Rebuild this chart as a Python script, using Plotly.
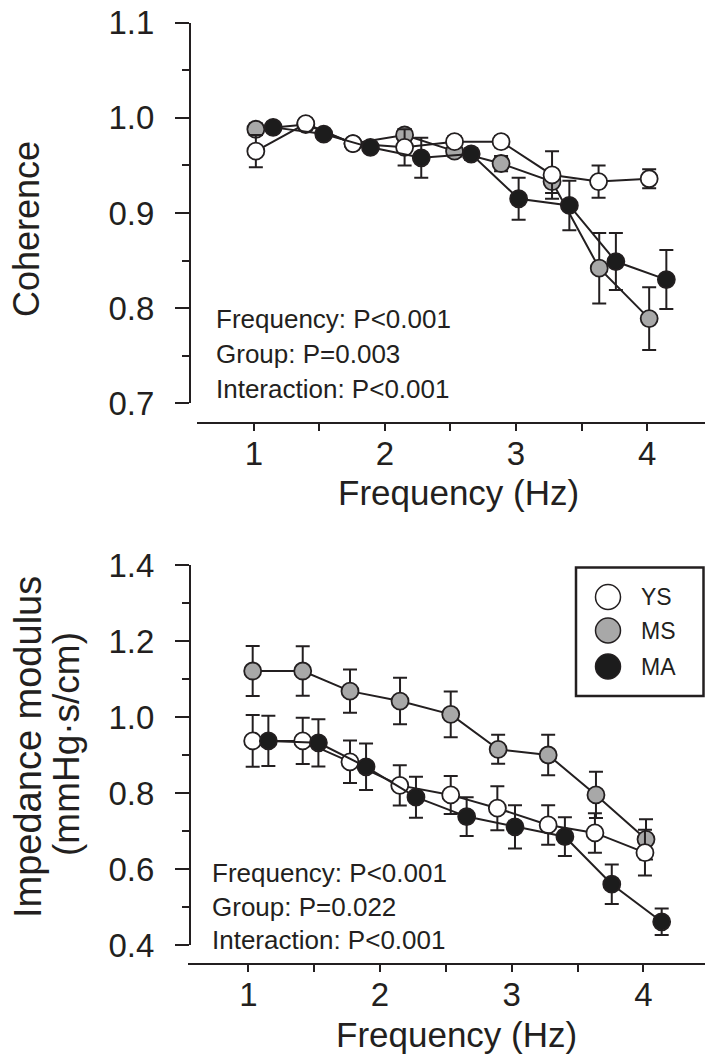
import plotly.graph_objects as go

W, H = 706, 1059

# ---------------- data ----------------
groups = ["YS", "MS", "MA"]
fill_colors = {"YS": "#ffffff", "MS": "#a8a8a8", "MA": "#1c1c1c"}

# Coherence panel (top)
coh_x_ys = [1.015, 1.396, 1.756, 2.150, 2.531, 2.886, 3.275, 3.630, 4.016]
coh_ys = [0.965, 0.994, 0.973, 0.969, 0.975, 0.975, 0.940, 0.933, 0.936]
coh_ys_err = [0.017, 0.005, 0.005, 0.019, 0.006, 0.006, 0.025, 0.017, 0.010]
coh_x_ms = [1.015, 1.396, 1.756, 2.150, 2.531, 2.886, 3.275, 3.635, 4.016]
coh_ms = [0.988, 0.993, 0.973, 0.982, 0.965, 0.952, 0.933, 0.842, 0.789]
coh_ms_err = [0.006, 0.005, 0.005, 0.006, 0.006, 0.008, 0.012, 0.037, 0.033]
coh_x_ma = [1.147, 1.533, 1.889, 2.277, 2.658, 3.020, 3.407, 3.762, 4.147]
coh_ma = [0.990, 0.983, 0.969, 0.958, 0.962, 0.915, 0.908, 0.849, 0.830]
coh_ma_err = [0.005, 0.005, 0.005, 0.021, 0.006, 0.022, 0.026, 0.030, 0.031]

# Impedance modulus panel (bottom)
imp_x_ys = [1.033, 1.413, 1.772, 2.150, 2.537, 2.891, 3.277, 3.632, 4.012]
imp_ys = [0.937, 0.937, 0.882, 0.820, 0.795, 0.760, 0.716, 0.695, 0.643]
imp_ys_err = [0.068, 0.061, 0.056, 0.053, 0.050, 0.058, 0.052, 0.052, 0.060]
imp_x_ms = [1.033, 1.413, 1.772, 2.152, 2.537, 2.897, 3.277, 3.640, 4.020]
imp_ms = [1.121, 1.121, 1.068, 1.042, 1.007, 0.915, 0.900, 0.795, 0.678]
imp_ms_err = [0.066, 0.065, 0.057, 0.061, 0.060, 0.038, 0.053, 0.061, 0.053]
imp_x_ma = [1.152, 1.532, 1.894, 2.273, 2.658, 3.025, 3.404, 3.760, 4.139]
imp_ma = [0.937, 0.932, 0.869, 0.789, 0.738, 0.711, 0.685, 0.560, 0.461]
imp_ma_err = [0.066, 0.062, 0.061, 0.054, 0.051, 0.057, 0.051, 0.052, 0.035]

x_tick_vals = [1, 2, 3, 4]
x_tick_text = ["1", "2", "3", "4"]
coh_tick_vals = [0.7, 0.8, 0.9, 1.0, 1.1]
coh_tick_text = ["0.7", "0.8", "0.9", "1.0", "1.1"]
imp_tick_vals = [0.4, 0.6, 0.8, 1.0, 1.2, 1.4]
imp_tick_text = ["0.4", "0.6", "0.8", "1.0", "1.2", "1.4"]

coh_stats = ["Frequency: P<0.001", "Group: P=0.003", "Interaction: P<0.001"]
imp_stats = ["Frequency: P<0.001", "Group: P=0.022", "Interaction: P<0.001"]

x_title = "Frequency (Hz)"
coh_title = "Coherence"
imp_title_1 = "Impedance modulus"
imp_title_2 = "(mmHg·s/cm)"

# ---------------- style ----------------
FONT = "Liberation Sans, Arial, sans-serif"
INK = "#231f20"
MARKER_SIZE = 17
EPS = 1e-6


def px(x):
    """window pixel x -> paper fraction"""
    return x / W


def py(y):
    """window pixel y -> paper fraction"""
    return 1 - y / H


fig = go.Figure()

panels = [
    ("x", "y", {"YS": (coh_x_ys, coh_ys, coh_ys_err),
                "MS": (coh_x_ms, coh_ms, coh_ms_err),
                "MA": (coh_x_ma, coh_ma, coh_ma_err)}),
    ("x2", "y2", {"YS": (imp_x_ys, imp_ys, imp_ys_err),
                  "MS": (imp_x_ms, imp_ms, imp_ms_err),
                  "MA": (imp_x_ma, imp_ma, imp_ma_err)}),
]

draw_order = ["MS", "YS", "MA"]
for xa, ya, data in panels:
    for g in draw_order:
        xs, vals, errs = data[g]
        fig.add_trace(go.Scatter(
            x=xs, y=vals, name=g, xaxis=xa, yaxis=ya,
            mode="lines+markers",
            line=dict(color=INK, width=2),
            marker=dict(size=MARKER_SIZE, color=fill_colors[g],
                        line=dict(color=INK, width=1.8)),
            error_y=dict(type="data", array=errs, visible=True,
                         color=INK, thickness=2, width=7),
            cliponaxis=False, showlegend=False,
        ))

axis_common = dict(
    showgrid=False, zeroline=False, showline=True, linewidth=2,
    linecolor=INK, ticks="outside", tickwidth=2, tickcolor=INK,
    tickfont=dict(family=FONT, size=33, color=INK), fixedrange=True,
    automargin=False,
)

fig.update_layout(
    template="none",
    xaxis=dict(axis_common, domain=[px(197), px(705)], range=[0.566, 4.442],
               anchor="free", position=py(423), tickmode="array",
               tickvals=x_tick_vals, ticktext=x_tick_text, ticklen=7,
               ticklabelstandoff=-6,
               minor=dict(dtick=0.5, tick0=0.5, ticklen=7, tickwidth=2,
                          tickcolor=INK, ticks="outside", showgrid=False)),
    yaxis=dict(axis_common, domain=[py(403.3), py(22.7)], range=[0.7 - EPS, 1.1 + EPS],
               anchor="free", position=px(190), tickmode="array",
               tickvals=coh_tick_vals, ticktext=coh_tick_text, ticklen=14,
               ticklabelstandoff=14,
               minor=dict(dtick=0.05, tick0=0.7, ticklen=7, tickwidth=2,
                          tickcolor=INK, ticks="outside", showgrid=False)),
    xaxis2=dict(axis_common, domain=[px(188.3), px(705)], range=[0.544, 4.468],
                anchor="free", position=py(964), tickmode="array",
                tickvals=x_tick_vals, ticktext=x_tick_text, ticklen=7,
                ticklabelstandoff=-6,
                minor=dict(dtick=0.5, tick0=0.5, ticklen=7, tickwidth=2,
                           tickcolor=INK, ticks="outside", showgrid=False)),
    yaxis2=dict(axis_common, domain=[py(945), py(565)], range=[0.4 - EPS, 1.4 + EPS],
                anchor="free", position=px(190), tickmode="array",
                tickvals=imp_tick_vals, ticktext=imp_tick_text, ticklen=14,
                ticklabelstandoff=14,
                minor=dict(dtick=0.1, tick0=0.4, ticklen=7, tickwidth=2,
                           tickcolor=INK, ticks="outside", showgrid=False)),
    width=W, height=H, margin=dict(l=0, r=0, t=0, b=0, pad=0, autoexpand=False),
    paper_bgcolor="white", plot_bgcolor="white", showlegend=False,
    font=dict(family=FONT, color=INK), hovermode=False,
)

annotations = []
# axis titles
annotations.append(dict(text=x_title, x=px(458), y=py(493), xref="paper", yref="paper",
                        xanchor="center", yanchor="middle", showarrow=False,
                        font=dict(family=FONT, size=35, color=INK)))
annotations.append(dict(text=x_title, x=px(456), y=py(1034), xref="paper", yref="paper",
                        xanchor="center", yanchor="middle", showarrow=False,
                        font=dict(family=FONT, size=35, color=INK)))
annotations.append(dict(text=coh_title, x=px(26), y=py(229), xref="paper", yref="paper",
                        xanchor="center", yanchor="middle", textangle=-90, showarrow=False,
                        font=dict(family=FONT, size=36, color=INK)))
annotations.append(dict(text=imp_title_1, x=px(28), y=py(747), xref="paper", yref="paper",
                        xanchor="center", yanchor="middle", textangle=-90, showarrow=False,
                        font=dict(family=FONT, size=38, color=INK)))
annotations.append(dict(text=imp_title_2, x=px(66), y=py(744), xref="paper", yref="paper",
                        xanchor="center", yanchor="middle", textangle=-90, showarrow=False,
                        font=dict(family=FONT, size=37, color=INK)))

# statistics text
for i, t in enumerate(coh_stats):
    annotations.append(dict(text=t, x=px(214), y=py(319 + 35 * i), xref="paper", yref="paper",
                            xanchor="left", yanchor="middle", showarrow=False,
                            font=dict(family=FONT, size=26, color=INK)))
for i, t in enumerate(imp_stats):
    annotations.append(dict(text=t, x=px(210), y=py(873 + 33.5 * i), xref="paper", yref="paper",
                            xanchor="left", yanchor="middle", showarrow=False,
                            font=dict(family=FONT, size=26, color=INK)))

# legend (manual, to match the large symbols of the original)
shapes = []
shapes.append(dict(type="rect", xref="paper", yref="paper",
                   x0=px(576), x1=px(703.5), y0=py(696), y1=py(567.5),
                   line=dict(color=INK, width=2.5), fillcolor="white", layer="above"))
leg_y = {"YS": 597, "MS": 630.5, "MA": 666.5}
R = 12.5
for g in groups:
    cy = leg_y[g]
    shapes.append(dict(type="circle", xref="paper", yref="paper",
                       x0=px(608 - R), x1=px(608 + R), y0=py(cy + R), y1=py(cy - R),
                       line=dict(color=INK, width=1.5), fillcolor=fill_colors[g], layer="above"))
    annotations.append(dict(text=g, x=px(639), y=py(cy), xref="paper", yref="paper",
                            xanchor="left", yanchor="middle", showarrow=False,
                            font=dict(family=FONT, size=23, color=INK)))

fig.update_layout(annotations=annotations, shapes=shapes)

# the html page's default 8px body margin would shift the figure; remove it
fig.write_html(
    "out.html",
    config={"displayModeBar": False, "staticPlot": True},
    post_script="document.body.style.margin='0px';document.body.style.overflow='hidden';",
)
